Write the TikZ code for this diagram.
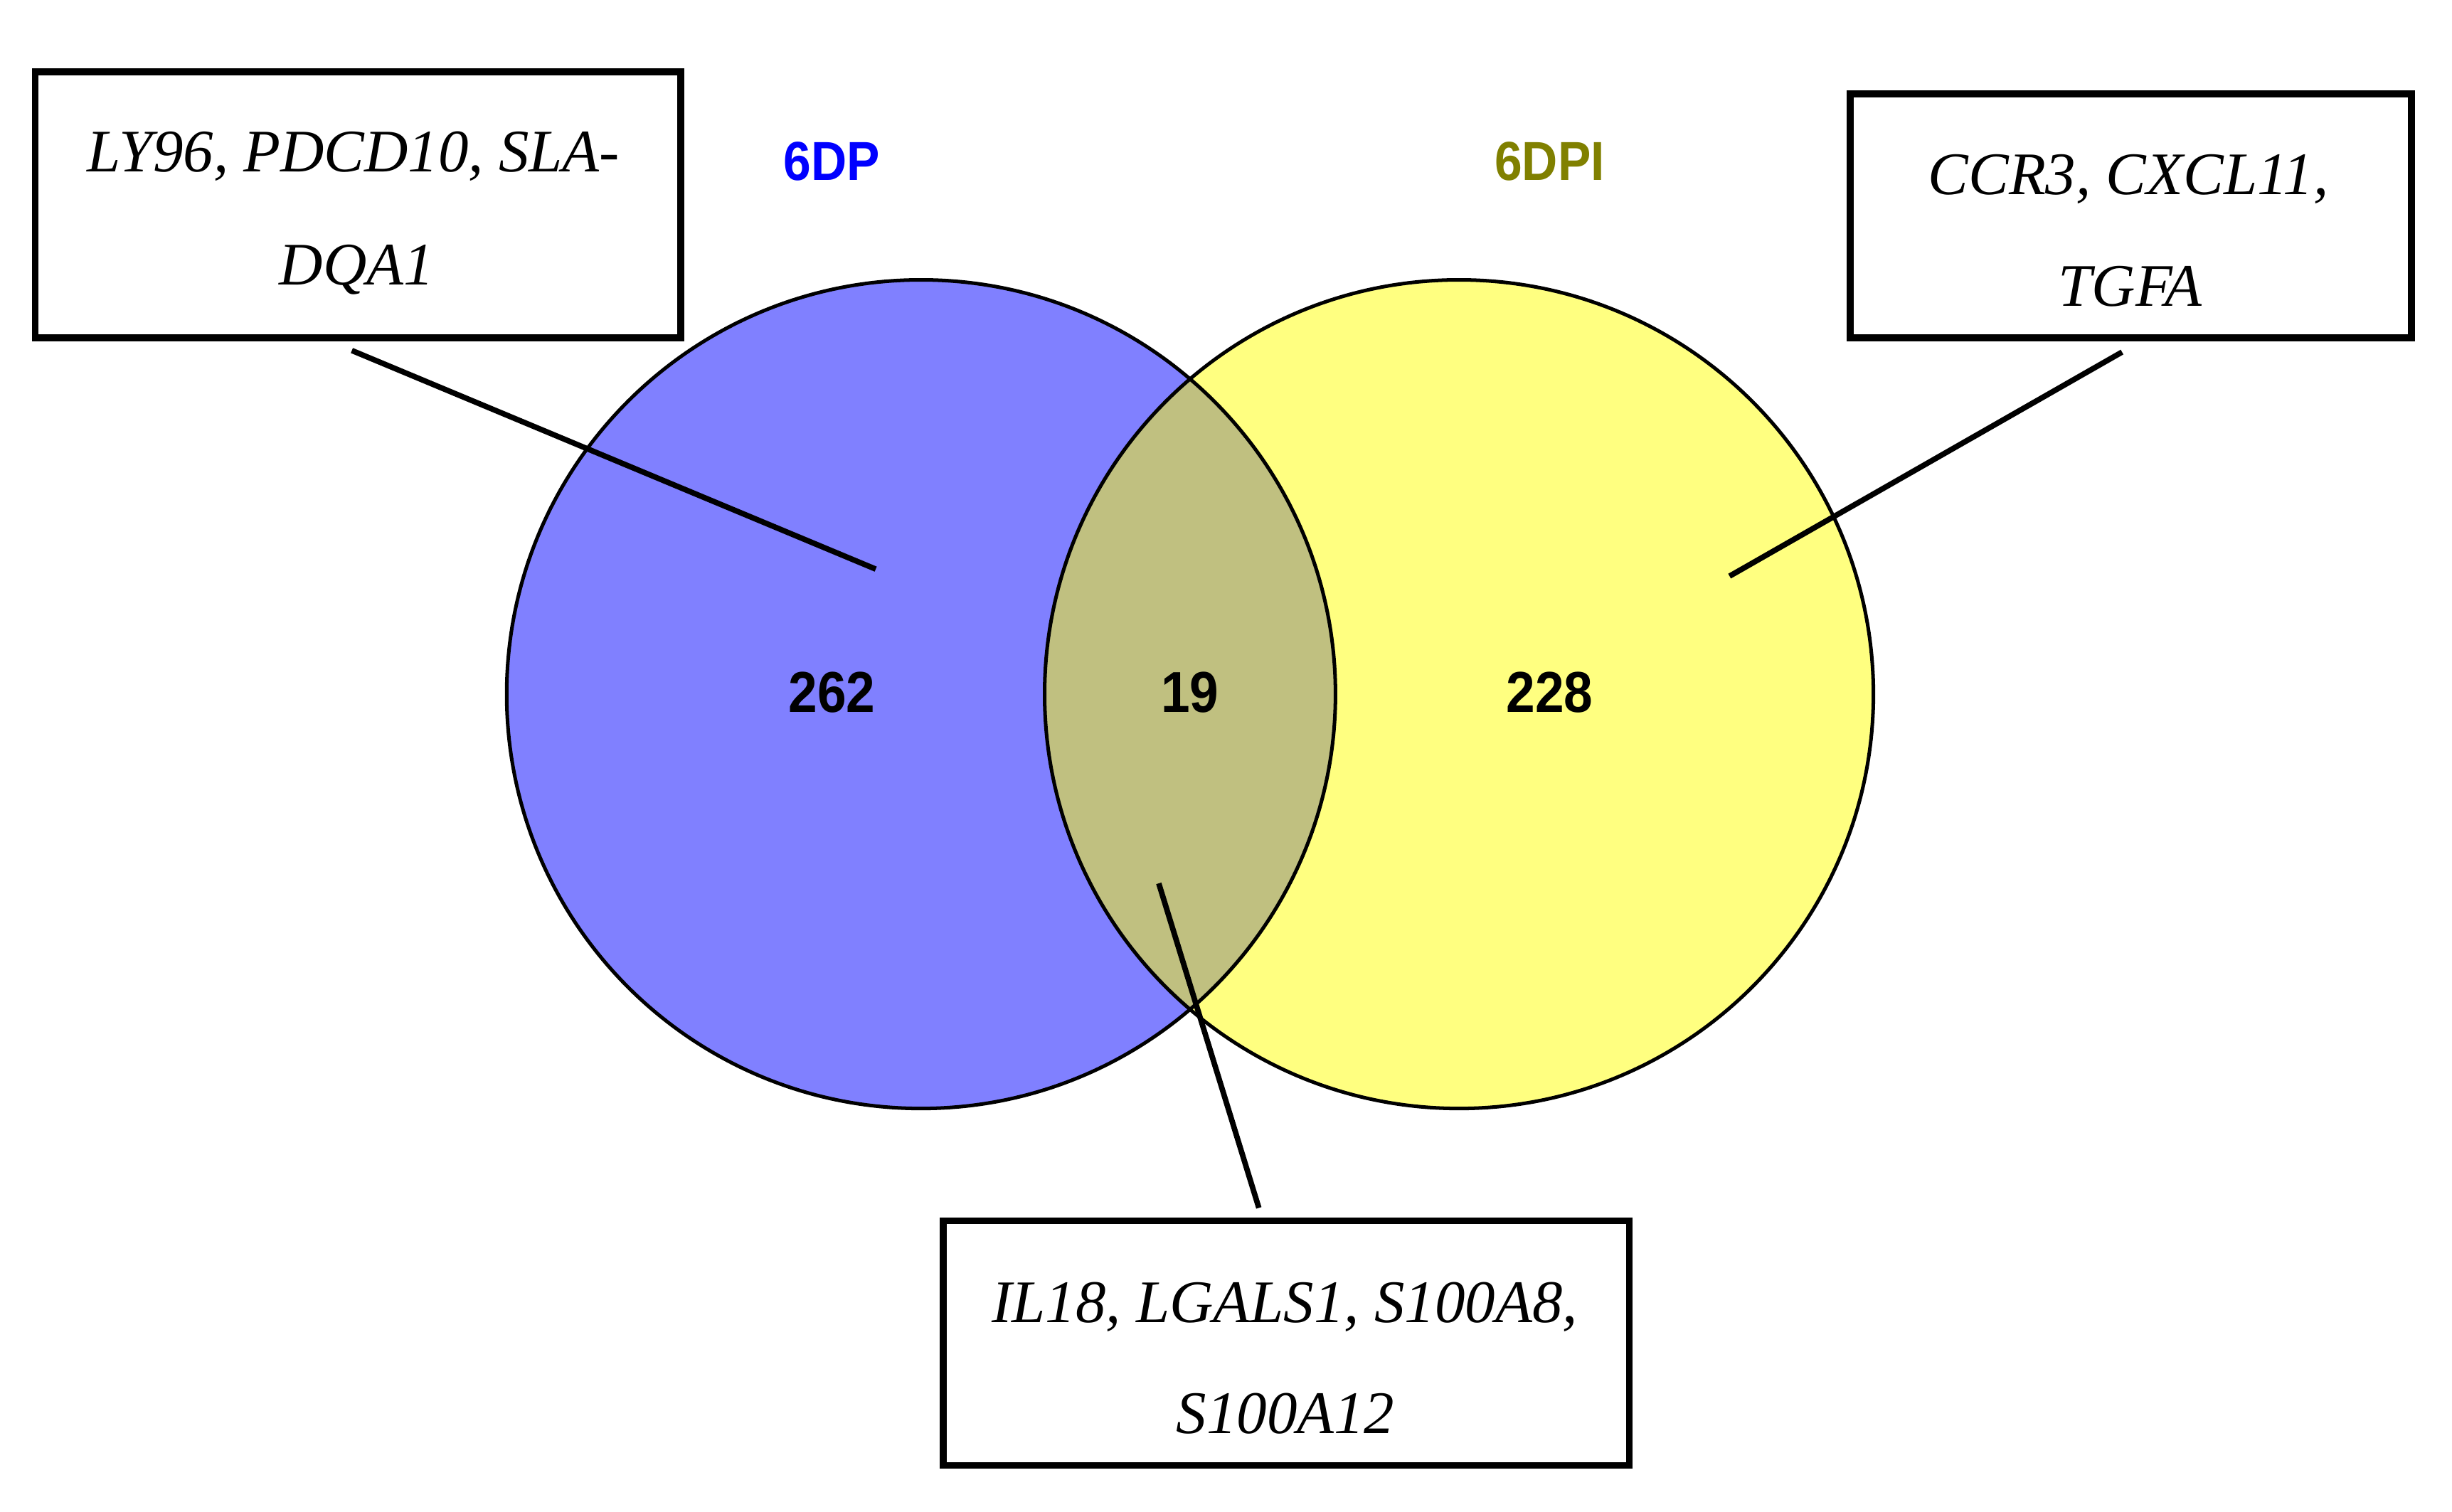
\documentclass[tikz,border=0pt]{standalone}
\usepackage{fontspec}
\newfontfamily\arialfont{Liberation Sans}
\newfontfamily\genefont{Liberation Serif}
\usetikzlibrary{calc}
\definecolor{setA}{RGB}{128,128,255}
\definecolor{setB}{RGB}{255,255,128}
\definecolor{setAB}{RGB}{192,192,128}
\definecolor{labA}{RGB}{0,0,255}
\definecolor{labB}{RGB}{128,128,0}
\begin{document}
\begin{tikzpicture}[x=0.02cm,y=-0.02cm,
  genebox/.style={draw=black,line width=2.5pt,fill=white,inner sep=0pt},
  genetext/.style={inner sep=0pt,anchor=base,font=\genefont\itshape\fontsize{22}{26}\selectfont},
  countlabel/.style={inner sep=0pt,font=\arialfont\bfseries\fontsize{21}{24}\selectfont},
  setlabel/.style={inner sep=0pt,font=\arialfont\bfseries\fontsize{20}{24}\selectfont},
  pointer/.style={line width=2pt,line cap=butt},
  setoutline/.style={line width=1.3pt}]
\useasboundingbox (0,0) rectangle (1568,967);
\fill[white] (0,0) rectangle (1568,967);
% circles
\coordinate (cA) at (589,444);
\coordinate (cB) at (933,444);
\fill[setA] (cA) circle (265);
\fill[setB] (cB) circle (265);
\begin{scope}
\clip (cA) circle (265);
\fill[setAB] (cB) circle (265);
\end{scope}
\draw[setoutline] (cA) circle (265);
\draw[setoutline] (cB) circle (265);
% set labels
\node[setlabel,text=labA] (lA) at (532,103) {\scalebox{0.9}[1]{6DP}};
\node[setlabel,text=labB] (lB) at (991,103) {\scalebox{0.9}[1]{6DPI}};
% counts
\node[countlabel] (nA) at (532,443) {\scalebox{0.9}[1]{262}};
\node[countlabel] (nAB) at (761,443) {\scalebox{0.9}[1]{19}};
\node[countlabel] (nB) at (991,443) {\scalebox{0.9}[1]{228}};
% boxes
\node[genebox,minimum width=8.26cm,minimum height=3.40cm] (b1) at (229,131) {};
\node[genebox,minimum width=7.18cm,minimum height=3.12cm] (b2) at (1362.5,138) {};
\node[genebox,minimum width=8.78cm,minimum height=3.13cm] (b3) at (822.5,859) {};
\node[genetext] (t1a) at (226,110) {LY96, PDCD10, SLA-};
\node[genetext] (t1b) at (228,182) {DQA1};
\node[genetext] (t2a) at (1361,124.5) {CCR3, CXCL11,};
\node[genetext] (t2b) at (1362,196) {TGFA};
\node[genetext] (t3a) at (821.5,846) {IL18, LGALS1, S100A8,};
\node[genetext] (t3b) at (822,917) {S100A12};
% pointers
\coordinate (p1) at (560,364);
\coordinate (p2) at (1106,368.5);
\coordinate (p3) at (741,565);
\draw[pointer] ($(b1.south)+(-4,6)$) -- (p1);
\draw[pointer] ($(b2.south)+(-5.5,7)$) -- (p2);
\draw[pointer] ($(b3.north)+(-17.5,-6)$) -- (p3);
\end{tikzpicture}
\end{document}
